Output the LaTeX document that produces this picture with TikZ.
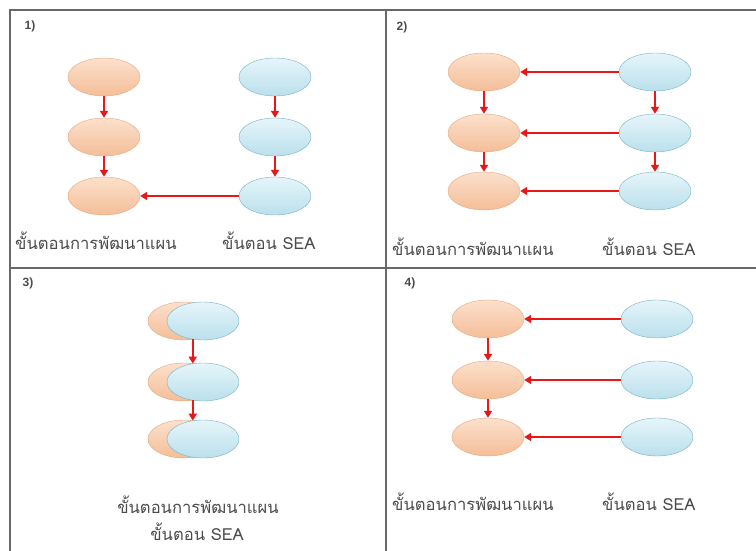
\documentclass[tikz,border=0pt]{standalone}
\usepackage{fontspec}
\setmainfont{Liberation Sans}
\newfontfamily\thaifont[Script=Thai]{Loma}
\usetikzlibrary{arrows.meta, shapes.geometric}
\definecolor{planfill}{RGB}{244,190,152}
\definecolor{plantop}{RGB}{252,224,204}
\definecolor{planedge}{RGB}{228,168,128}
\definecolor{seafill}{RGB}{186,224,236}
\definecolor{seatop}{RGB}{230,245,250}
\definecolor{seaedge}{RGB}{118,178,198}
\definecolor{flowred}{RGB}{232,24,24}
\definecolor{gridgray}{RGB}{105,105,105}
\definecolor{textgray}{RGB}{75,75,75}
\tikzset{
  plan/.style={ellipse, draw=planedge, top color=plantop, bottom color=planfill,
               minimum width=72pt, minimum height=38pt, inner sep=0pt},
  sea/.style={ellipse, draw=seaedge, top color=seatop, bottom color=seafill,
              minimum width=72pt, minimum height=38pt, inner sep=0pt},
  flow/.style={-{Triangle[length=7pt,width=8pt]}, line width=2pt, color=flowred},
  grid/.style={line width=1.2pt, color=gridgray},
  caption/.style={font=\thaifont\fontsize{16.6}{19}\selectfont, text=textgray, inner sep=0pt},
  tag/.style={font=\bfseries\fontsize{12}{14}\selectfont, text=textgray},
}
\begin{document}
\begin{tikzpicture}[x=1pt, y=-1pt]
  \useasboundingbox (0,0) rectangle (756,551);
  % table lines
  \draw[grid] (10,551) -- (10,10) -- (756,10);
  \draw[grid] (386,10) -- (386,551);
  \draw[grid] (10,268) -- (756,268);

  % 1)
  \node[tag] (t1) at (30,26) {1)};
  \foreach \i/\y in {1/77, 2/137, 3/196} {
    \node[plan] (p1\i) at (104,\y) {};
    \node[sea] (s1\i) at (275,\y) {};
  }
  \foreach \a/\b in {1/2, 2/3} {
    \draw[flow] (p1\a.south) -- (p1\b.north);
    \draw[flow] (s1\a.south) -- (s1\b.north);
  }
  \draw[flow] (s13.west) -- (p13.east);
  \node[caption, anchor=west] (c1a) at (15,241) {ขั้นตอนการพัฒนาแผน};
  \node[caption, anchor=west] (c1b) at (222,241) {ขั้นตอน SEA};

  % 2)
  \node[tag] (t2) at (402,27) {2)};
  \foreach \i/\y in {1/72, 2/133, 3/191} {
    \node[plan] (p2\i) at (484,\y) {};
    \node[sea] (s2\i) at (655,\y) {};
    \draw[flow] (s2\i.west) -- (p2\i.east);
  }
  \foreach \a/\b in {1/2, 2/3} {
    \draw[flow] (p2\a.south) -- (p2\b.north);
    \draw[flow] (s2\a.south) -- (s2\b.north);
  }
  \node[caption, anchor=west] (c2a) at (392,247) {ขั้นตอนการพัฒนาแผน};
  \node[caption, anchor=west] (c2b) at (602,247) {ขั้นตอน SEA};

  % 3)
  \node[tag] (t3) at (28,283) {3)};
  \foreach \i/\y in {1/321, 2/382, 3/439} {
    \node[plan] (p3\i) at (184,\y) {};
    \node[sea] (s3\i) at (203,\y) {};
  }
  \foreach \a/\b in {1/2, 2/3}
    \draw[flow] (s3\a.241) -- (s3\b.119);
  \node[caption] (c3a) at (198,505) {ขั้นตอนการพัฒนาแผน};
  \node[caption] (c3b) at (197,532) {ขั้นตอน SEA};

  % 4)
  \node[tag] (t4) at (410,283) {4)};
  \foreach \i/\y in {1/319, 2/380, 3/437} {
    \node[plan] (p4\i) at (488,\y) {};
    \node[sea] (s4\i) at (657,\y) {};
    \draw[flow] (s4\i.west) -- (p4\i.east);
  }
  \foreach \a/\b in {1/2, 2/3}
    \draw[flow] (p4\a.south) -- (p4\b.north);
  \node[caption, anchor=west] (c4a) at (392,502) {ขั้นตอนการพัฒนาแผน};
  \node[caption, anchor=west] (c4b) at (602,502) {ขั้นตอน SEA};
\end{tikzpicture}
\end{document}
